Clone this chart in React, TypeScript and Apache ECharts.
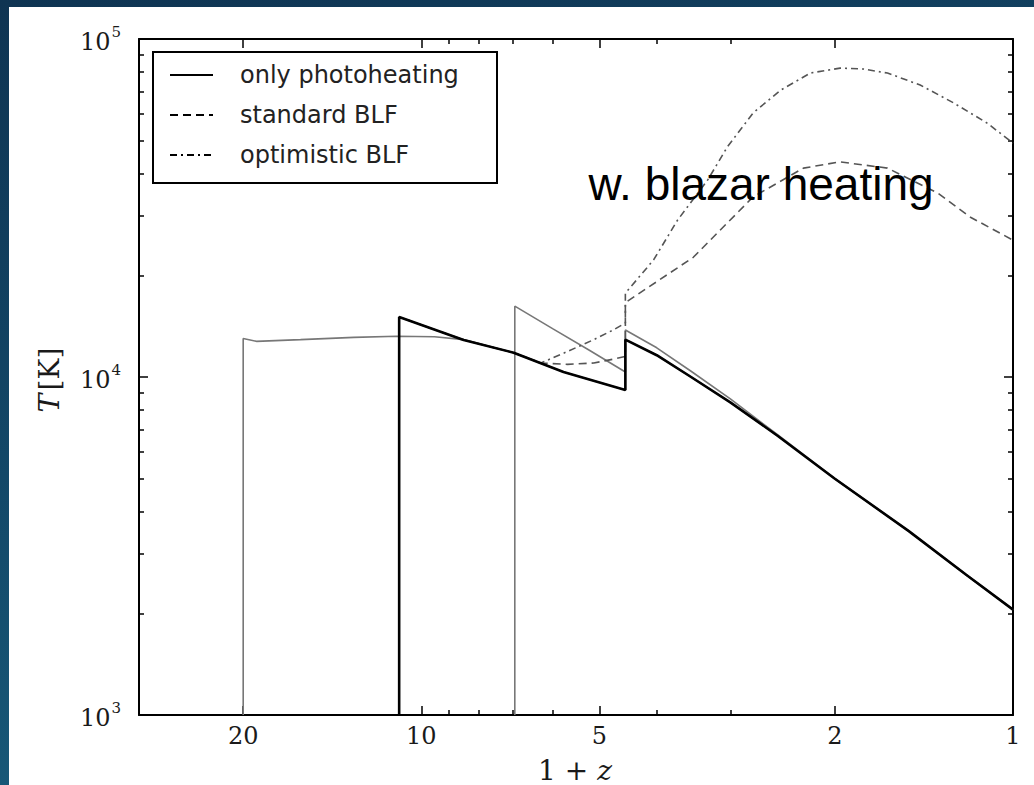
import { useEffect, useRef } from "react";
import * as echarts from "echarts";

const lg = Math.log10;

// axis ranges
const X_MIN = 1;
const X_MAX = 30;
const Y_MIN = 1e3;
const Y_MAX = 1e5;

// tick positions (1+z and T in K)
const X_MAJOR_TICKS = [20, 10, 5, 2, 1];
const X_MINOR_TICKS = [9, 8, 7, 6, 4, 3];
const Y_MAJOR_TICKS = [1e3, 1e4, 1e5];
const Y_MINOR_TICKS = [
  2e3, 3e3, 4e3, 5e3, 6e3, 7e3, 8e3, 9e3,
  2e4, 3e4, 4e4, 5e4, 6e4, 7e4, 8e4, 9e4,
];

// only photoheating, reionization at 1+z = 10.9
const PHOTO_Z = [10.9, 10.9, 8.48, 6.98, 5.75, 4.52, 4.52, 4, 3.5, 3, 2.5, 2, 1.5, 1.2, 1];
const PHOTO_T = [1000, 15050, 12870, 11800, 10350, 9150, 12900, 11600, 10000, 8400, 6700, 5000, 3500, 2600, 2050];

// standard blazar luminosity function
const STD_Z = [10.9, 10.9, 8.48, 6.98, 6.28, 5.66, 5.11, 4.73, 4.52, 4.52, 3.47, 2.75, 2.26, 1.96, 1.63, 1.34, 1.18, 1];
const STD_T = [1000, 15050, 12870, 11800, 11000, 10900, 11000, 11300, 11500, 16600, 22600, 34100, 41500, 43300, 41500, 35000, 29700, 25400];

// optimistic blazar luminosity function
const OPT_Z = [10.9, 10.9, 8.48, 6.98, 6.28, 5.66, 5.11, 4.73, 4.52, 4.52, 4.05, 3.69, 3.28, 3.04, 2.75, 2.47, 2.2, 1.96, 1.79, 1.63, 1.435, 1.26, 1.106, 1];
const OPT_T = [1000, 15050, 12870, 11800, 11000, 11900, 12900, 13800, 14450, 17700, 22200, 29100, 38300, 47900, 60400, 70600, 79300, 82000, 81500, 79300, 73100, 64700, 56400, 49200];

// photoheating with early reionization (1+z = 20)
const EARLY_Z = [20, 20, 19, 16, 13, 11, 9.5, 8.48, 6.98, 5.75, 4.52, 4.52, 4, 3.5, 3, 2.5, 2, 1.5, 1.2, 1];
const EARLY_T = [1000, 13000, 12750, 12900, 13100, 13200, 13150, 12900, 11800, 10350, 9150, 12900, 11600, 10000, 8400, 6700, 5000, 3500, 2600, 2050];

// photoheating with late reionization (1+z = 6.95)
const LATE_Z = [6.95, 6.95, 6, 5.2, 4.52, 4.52, 4, 3.5, 3, 2.5, 2, 1.5, 1.2, 1];
const LATE_T = [1000, 16200, 13900, 12000, 10350, 13770, 12200, 10400, 8600, 6750, 5000, 3500, 2600, 2050];

const pairs = (zs: number[], ts: number[]) => zs.map((z, i) => [lg(z), lg(ts[i])]);

const SERIF = "DejaVu Serif";

function xAxis(position: "top" | "bottom", ticks: number[], len: number, main: boolean) {
  return {
    type: "value",
    position,
    min: lg(X_MIN),
    max: lg(X_MAX),
    inverse: true,
    axisLine: { show: main, onZero: false, lineStyle: { color: "#000", width: 2 } },
    axisTick: {
      show: true,
      inside: true,
      length: len,
      customValues: ticks.map(lg),
      lineStyle: { color: "#000", width: 1.5 },
    },
    axisLabel:
      main && position === "bottom"
        ? {
            show: true,
            customValues: X_MAJOR_TICKS.map(lg),
            formatter: (v: number) => String(Math.round(Math.pow(10, v))),
            fontFamily: SERIF,
            fontSize: 24,
            color: "#1a1a1a",
            margin: 9,
          }
        : { show: false },
    splitLine: { show: false },
  };
}

function yAxis(position: "left" | "right", ticks: number[], len: number, main: boolean) {
  return {
    type: "value",
    position,
    min: lg(Y_MIN),
    max: lg(Y_MAX),
    axisLine: { show: main, onZero: false, lineStyle: { color: "#000", width: 2 } },
    axisTick: {
      show: true,
      inside: true,
      length: len,
      customValues: ticks.map(lg),
      lineStyle: { color: "#000", width: 1.5 },
    },
    axisLabel:
      main && position === "left"
        ? {
            show: true,
            customValues: Y_MAJOR_TICKS.map(lg),
            formatter: (v: number) => `{b|10}{s|${Math.round(v)}}`,
            margin: 18,
            rich: {
              b: { fontFamily: SERIF, fontSize: 24, color: "#1a1a1a", lineHeight: 30, verticalAlign: "bottom" },
              s: { fontFamily: SERIF, fontSize: 15, color: "#1a1a1a", lineHeight: 30, verticalAlign: "top", padding: [0, 0, 8, 1] },
            },
          }
        : { show: false },
    splitLine: { show: false },
  };
}

export default function App() {
  const ref = useRef<HTMLDivElement>(null);

  useEffect(() => {
    if (!ref.current) return;
    const chart = echarts.init(ref.current, undefined, { renderer: "svg" });

    const thinGray = { color: "#777", width: 1.6, type: "solid" };
    const legendLine = { color: "#000", width: 2 };
    const noMarker = { opacity: 0 };

    chart.setOption({
      animation: false,
      grid: { left: 139, right: 21, top: 39, bottom: 70, containLabel: false },
      xAxis: [
        xAxis("bottom", X_MAJOR_TICKS, 9, true),
        xAxis("bottom", X_MINOR_TICKS, 5, false),
        xAxis("top", X_MAJOR_TICKS, 9, true),
        xAxis("top", X_MINOR_TICKS, 5, false),
      ],
      yAxis: [
        yAxis("left", Y_MAJOR_TICKS, 9, true),
        yAxis("left", Y_MINOR_TICKS, 5, false),
        yAxis("right", Y_MAJOR_TICKS, 9, true),
        yAxis("right", Y_MINOR_TICKS, 5, false),
      ],
      legend: {
        show: true,
        left: 153,
        top: 52,
        orient: "vertical",
        selectedMode: false,
        backgroundColor: "#fff",
        borderColor: "#000",
        borderWidth: 2,
        padding: [3, 12, 8, 16],
        itemGap: 0,
        itemWidth: 43,
        itemHeight: 14,
        textStyle: {
          fontFamily: "DejaVu Sans",
          fontSize: 24,
          color: "#222",
          lineHeight: 40,
          padding: [0, 0, 0, 22],
          width: 245,
        },
        data: [
          { name: "only photoheating", lineStyle: legendLine, itemStyle: noMarker },
          { name: "standard BLF", lineStyle: legendLine, itemStyle: noMarker },
          { name: "optimistic BLF", lineStyle: legendLine, itemStyle: noMarker },
        ],
      },
      series: [
        {
          type: "line",
          name: "early reionization",
          data: pairs(EARLY_Z, EARLY_T),
          symbol: "none",
          lineStyle: thinGray,
          z: 1,
        },
        {
          type: "line",
          name: "late reionization",
          data: pairs(LATE_Z, LATE_T),
          symbol: "none",
          lineStyle: thinGray,
          z: 1,
        },
        {
          type: "line",
          name: "standard BLF",
          data: pairs(STD_Z, STD_T),
          symbol: "none",
          color: "#555",
          lineStyle: { color: "#555", width: 1.6, type: [8, 5] },
          z: 2,
        },
        {
          type: "line",
          name: "optimistic BLF",
          data: pairs(OPT_Z, OPT_T),
          symbol: "none",
          color: "#555",
          lineStyle: { color: "#555", width: 1.6, type: [7, 4, 2, 4] },
          z: 2,
        },
        {
          type: "line",
          name: "only photoheating",
          data: pairs(PHOTO_Z, PHOTO_T),
          symbol: "none",
          color: "#000",
          lineStyle: { color: "#000", width: 2.6, type: "solid" },
          z: 3,
        },
      ],
      graphic: [
        {
          type: "text",
          z: 100,
          x: 761,
          y: 184,
          style: {
            text: "w. blazar heating",
            fontFamily: "Liberation Sans",
            fontSize: 46,
            fill: "#000",
            align: "center",
            verticalAlign: "middle",
          },
        },
        {
          type: "text",
          z: 100,
          x: 575,
          y: 770,
          style: {
            text: "{n|1 + }{i|z}",
            align: "center",
            verticalAlign: "middle",
            rich: {
              n: { fontFamily: SERIF, fontSize: 28, fill: "#1a1a1a" },
              i: { fontFamily: SERIF, fontSize: 28, fontStyle: "italic", fill: "#1a1a1a" },
            },
          },
        },
        {
          type: "text",
          z: 100,
          x: 49,
          y: 380,
          rotation: Math.PI / 2,
          style: {
            text: "{i|T} {n|[K]}",
            align: "center",
            verticalAlign: "middle",
            rich: {
              n: { fontFamily: SERIF, fontSize: 28, fill: "#1a1a1a" },
              i: { fontFamily: SERIF, fontSize: 28, fontStyle: "italic", fill: "#1a1a1a" },
            },
          },
        },
      ],
    });

    return () => chart.dispose();
  }, []);

  return (
    <div
      style={{
        position: "fixed",
        left: 0,
        top: 0,
        width: 1034,
        height: 785,
        background: "linear-gradient(165deg, #0f3452 0%, #134868 45%, #1b6584 100%)",
        overflow: "hidden",
      }}
    >
      <div style={{ position: "absolute", left: 9, top: 7, right: 0, bottom: 0, background: "#fff" }} />
      <div ref={ref} style={{ position: "absolute", left: 0, top: 0, width: 1034, height: 785 }} />
    </div>
  );
}
